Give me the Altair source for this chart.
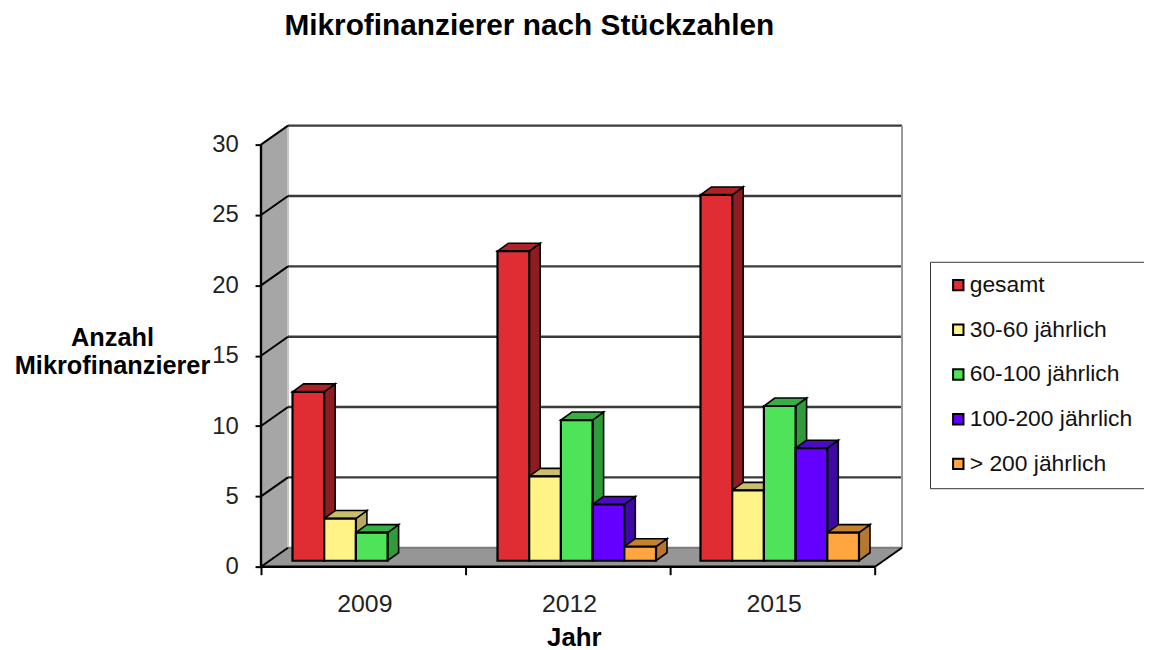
import altair as alt
import pandas as pd

title_text = "Mikrofinanzierer nach Stückzahlen"
years = ["2009", "2012", "2015"]
series = ["gesamt", "30-60 jährlich", "\u00a060-100 jährlich", "100-200 jährlich", "> 200 jährlich"]
v2009 = [12, 3, 2, None, None]
v2012 = [22, 6, 10, 4, 1]
v2015 = [26, 5, 11, 8, 2]
y_ticks = [0, 5, 10, 15, 20, 25, 30]

front_colors = ["#E02D33", "#FFF387", "#4FE35A", "#6400FF", "#FFA640"]
side_colors = ["#8E1C22", "#B5AB5F", "#2F9B3A", "#3F0AA3", "#B5782E"]
top_colors = ["#AE2329", "#C9BE69", "#37B043", "#4B0CC0", "#C5812F"]

# the page fits the 1144 px wide drawing into 1136 px
K = 1144 / 1136
PAD_L, PAD_T = 253 * K, 114.5 * K
PW, PH = 640 * K, 442 * K
GROUP = 204.67          # px per category band
UNIT = 14.07            # px per value unit
XMAX, YMAX = 640 / GROUP, 442 / UNIT
WALL_DX, WALL_DY = 27 / GROUP, 19 / UNIT
BAR_W = 31.7 / GROUP
BAR_DX, BAR_DY = 11 / GROUP, 8 / UNIT
BASE = 6 / UNIT
STARTS = [31.5 / GROUP, 236.5 / GROUP, 439.5 / GROUP]
XAX = 3.0
YAX = 30

fronts, sides, tops = [], [], []
for g, vals in enumerate([v2009, v2012, v2015]):
    for s, v in enumerate(vals):
        if v is None:
            continue
        x0 = STARTS[g] + s * BAR_W
        x1 = x0 + BAR_W
        top = BASE + v
        bid = f"{g}-{s}"
        fronts.append(dict(series=series[s], x=x0, x2=x1, y=BASE, y2=top))
        sides += [
            dict(id=bid, c=side_colors[s], x=x1, y=top, y2=BASE),
            dict(id=bid, c=side_colors[s], x=x1 + BAR_DX, y=top + BAR_DY, y2=BASE + BAR_DY),
        ]
        tops += [
            dict(id=bid, c=top_colors[s], y=top, x=x0, x2=x1),
            dict(id=bid, c=top_colors[s], y=top + BAR_DY, x=x0 + BAR_DX, x2=x1 + BAR_DX),
        ]

sx = alt.Scale(domain=[0, XMAX], range=[0, PW], nice=False, zero=False)
sy = alt.Scale(domain=[0, YMAX], range=[PH, 0], nice=False, zero=False)

x_axis = alt.Axis(
    values=[0, 0.5, 1, 1.5, 2, 2.5, 3],
    labelExpr="datum.value==0.5?'%s':datum.value==1.5?'%s':datum.value==2.5?'%s':''" % tuple(years),
    tickOpacity={"condition": {"test": "datum.value % 1 == 0", "value": 1}, "value": 0},
    domain=False, grid=False, tickSize=8, tickWidth=2, tickColor="black",
    labelFont="Liberation Sans", labelFontSize=25, labelColor="#222222", labelPadding=17,
    labelOffset=1, labelAngle=0, labelFlush=False, labelOverlap=False,
    title="Jahr", titleFont="Liberation Sans", titleFontSize=26, titleFontWeight="bold",
    titleColor="black", titleX=315, titleY=71, titleAlign="center", titleBaseline="middle",
)
y_axis = alt.Axis(
    values=y_ticks, domain=False, grid=False, tickSize=6, tickWidth=2, tickColor="black",
    labelFont="Liberation Sans", labelFontSize=24, labelColor="#222222", labelPadding=17,
    labelOverlap=False, labelFlush=False,
    title=["Anzahl", "Mikrofinanzierer"], titleFont="Liberation Sans", titleFontSize=25.5,
    titleFontWeight="bold", titleColor="black", titleAngle=0, titleX=-150, titleY=214,
    titleAlign="center", titleBaseline="middle", titleLineHeight=29,
)
X = alt.X("x:Q", scale=sx, axis=x_axis)
Y = alt.Y("y:Q", scale=sy, axis=y_axis)

# left wall
wall = alt.Chart(pd.DataFrame([
    dict(x=0, y=YAX, y2=0),
    dict(x=WALL_DX, y=YAX + WALL_DY, y2=WALL_DY),
])).mark_area(color="#A6A6A6").encode(x=X, y=Y, y2="y2:Q")
# floor
floor = alt.Chart(pd.DataFrame([
    dict(y=0, x=0, x2=XAX),
    dict(y=WALL_DY, x=WALL_DX, x2=XAX + WALL_DX),
])).mark_area(color="#969696", orient="horizontal").encode(x=X, x2="x2:Q", y=Y)
grid_df = pd.DataFrame([dict(y=t + WALL_DY, x=WALL_DX, x2=XAX + WALL_DX, y0=t) for t in y_ticks])
back_grid = alt.Chart(grid_df[grid_df.y0 > 0]).mark_rule(color="#3A3A3A", strokeWidth=2.4).encode(
    x=X, x2="x2:Q", y=Y,
)
diag = alt.Chart(pd.DataFrame([dict(x=0, x2=WALL_DX, y=t, y2=t + WALL_DY) for t in y_ticks])).mark_rule(
    color="black", strokeWidth=2
).encode(x=X, x2="x2:Q", y=Y, y2="y2:Q")
floor_edge = alt.Chart(pd.DataFrame([dict(x=XAX, x2=XAX + WALL_DX, y=0, y2=WALL_DY)])).mark_rule(
    color="black", strokeWidth=2
).encode(x=X, x2="x2:Q", y=Y, y2="y2:Q")
floor_back = alt.Chart(pd.DataFrame([dict(x=WALL_DX, x2=XAX + WALL_DX, y=WALL_DY)])).mark_rule(
    color="#7A7A7A", strokeWidth=2
).encode(x=X, x2="x2:Q", y=Y)
right_edge = alt.Chart(pd.DataFrame([dict(x=XAX + WALL_DX, y=WALL_DY, y2=YAX + WALL_DY)])).mark_rule(
    color="#9A9A9A", strokeWidth=2
).encode(x=X, y=Y, y2="y2:Q")
left_back = alt.Chart(pd.DataFrame([dict(x=WALL_DX, y=WALL_DY, y2=YAX + WALL_DY)])).mark_rule(
    color="#C8C8C8", strokeWidth=2
).encode(x=X, y=Y, y2="y2:Q")
y_line = alt.Chart(pd.DataFrame([dict(x=0, y=0, y2=YAX)])).mark_rule(color="black", strokeWidth=2.4).encode(
    x=X, y=Y, y2="y2:Q"
)
x_line = alt.Chart(pd.DataFrame([dict(x=0, x2=XAX, y=0)])).mark_rule(color="black", strokeWidth=2.4).encode(
    x=X, x2="x2:Q", y=Y
)

side_layer = alt.Chart(pd.DataFrame(sides)).mark_area(stroke="black", strokeWidth=1.6).encode(
    x=X, y=Y, y2="y2:Q", fill=alt.Color("c:N", scale=None), detail="id:N",
)
top_layer = alt.Chart(pd.DataFrame(tops)).mark_area(stroke="black", strokeWidth=1.6, orient="horizontal").encode(
    x=X, x2="x2:Q", y=Y, fill=alt.Color("c:N", scale=None), detail="id:N",
)
front_layer = alt.Chart(pd.DataFrame(fronts)).mark_rect(stroke="black", strokeWidth=2.2).encode(
    x=X, x2="x2:Q", y=Y, y2="y2:Q",
    fill=alt.Color(
        "series:N",
        scale=alt.Scale(domain=series, range=front_colors),
        sort=series,
        legend=alt.Legend(
            title=None, orient="none", legendX=673.7, legendY=138,
            fillColor="white", strokeColor="#333333", padding=12,
            symbolType="square", symbolSize=110, symbolStrokeColor="black", symbolStrokeWidth=2,
            symbolOffset=5, labelFont="Liberation Sans", labelFontSize=23, labelColor="#111111",
            labelOffset=0, rowPadding=21, labelLimit=300,
        ),
    ),
)

chart = alt.layer(
    wall, floor, left_back, back_grid, floor_back, right_edge, diag, floor_edge,
    side_layer, top_layer, front_layer, y_line, x_line,
).properties(
    width=PW, height=PH,
    autosize=alt.AutoSizeParams(type="none"),
    padding={"left": PAD_L, "top": PAD_T, "right": 1144 - PAD_L - PW, "bottom": 86},
    background="white",
    title=alt.TitleParams(
        title_text, font="Liberation Sans", fontSize=30, fontWeight="bold", color="black",
        anchor="middle", dx=-52, offset=84,
    ),
).configure_view(stroke=None)

chart.save("out.html", embed_options={"renderer": "svg", "actions": False})
